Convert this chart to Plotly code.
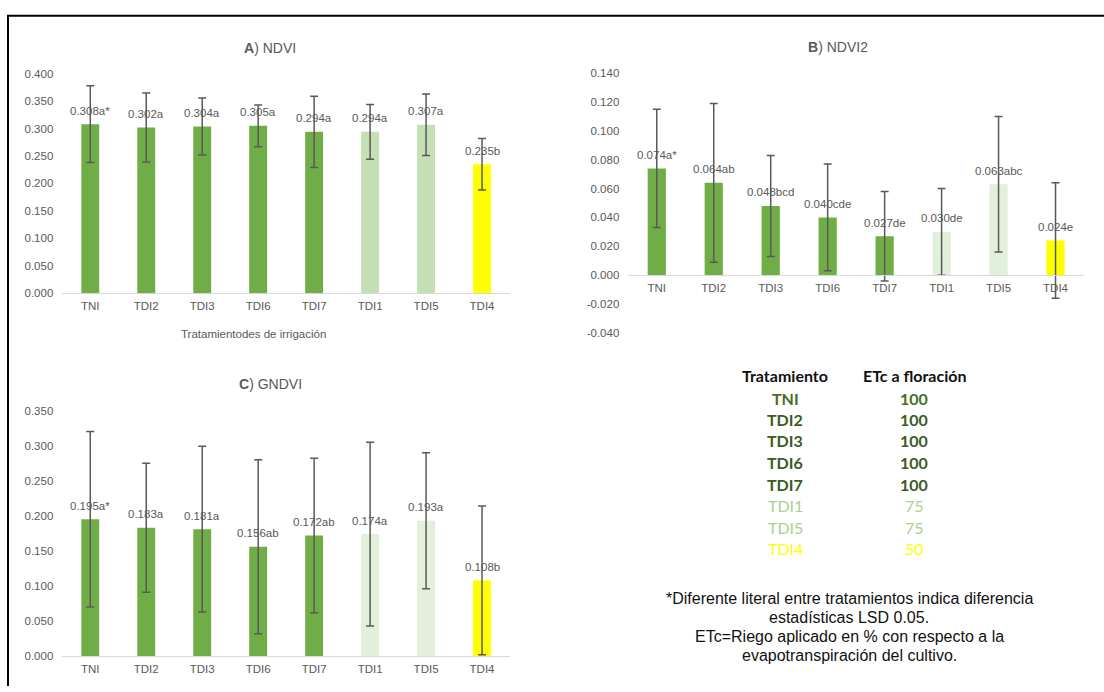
import plotly.graph_objects as go

# Treatments, in plotting order
treatments = ["TNI", "TDI2", "TDI3", "TDI6", "TDI7", "TDI1", "TDI5", "TDI4"]

# A) NDVI
ndvi = [0.308, 0.302, 0.304, 0.305, 0.294, 0.294, 0.307, 0.235]
ndvi_letters = ["a*", "a", "a", "a", "a", "a", "a", "b"]
ndvi_err = [0.070, 0.063, 0.052, 0.038, 0.065, 0.050, 0.056, 0.047]

# B) NDVI2
ndvi2 = [0.074, 0.064, 0.048, 0.040, 0.027, 0.030, 0.063, 0.024]
ndvi2_letters = ["a*", "ab", "bcd", "cde", "de", "de", "abc", "e"]
ndvi2_err = [0.041, 0.055, 0.035, 0.037, 0.031, 0.030, 0.047, 0.040]

# C) GNDVI
gndvi = [0.195, 0.183, 0.181, 0.156, 0.172, 0.174, 0.193, 0.108]
gndvi_letters = ["a*", "a", "a", "ab", "ab", "a", "a", "b"]
gndvi_err = [0.125, 0.092, 0.118, 0.124, 0.110, 0.131, 0.097, 0.106]

# Irrigation table
table_treatments = ["TNI", "TDI2", "TDI3", "TDI6", "TDI7", "TDI1", "TDI5", "TDI4"]
table_etc = ["100", "100", "100", "100", "100", "75", "75", "50"]

footnote_lines = [
    "*Diferente literal entre tratamientos indica diferencia",
    "estadísticas LSD 0.05.",
    "ETc=Riego aplicado en % con respecto a la",
    "evapotranspiración del cultivo.",
]

# Styling
W, H = 1104, 692
DARK = "#70AD47"
LIGHT_A = "#C5E0B4"
LIGHT_BC = "#E2EFDA"
YELLOW = "#FFFF00"
GREY = "#595959"
AXIS_LINE = "#D9D9D9"
FONT = "Liberation Sans, Arial, sans-serif"

colors_a = [DARK] * 5 + [LIGHT_A] * 2 + [YELLOW]
colors_bc = [DARK] * 5 + [LIGHT_BC] * 2 + [YELLOW]

table_colors = ["#466D27"] + ["#3B5B24"] * 4 + ["#A9D08E"] * 2 + ["#FFFF00"]
table_bold = [True] * 5 + [False] * 3


def px_x(p):
    return p / W


def px_y(p):
    return 1 - p / H


def paper_text(x, y, text, size, color, family=FONT):
    return dict(x=px_x(x), y=px_y(y), xref="paper", yref="paper", text=text,
                showarrow=False, xanchor="center", yanchor="middle",
                font=dict(family=family, size=size, color=color))


panels = [
    dict(vals=ndvi, letters=ndvi_letters, err=ndvi_err, colors=colors_a,
         yrange=(0.0, 0.4), dtick=0.05, xdom=(62.3, 510), ydom=(292, 69),
         title="<b>A</b>) NDVI", tpos=(270, 42.3)),
    dict(vals=ndvi2, letters=ndvi2_letters, err=ndvi2_err, colors=colors_bc,
         yrange=(-0.04, 0.14), dtick=0.02, xdom=(628.3, 1084), ydom=(332.7, 68.3),
         title="<b>B</b>) NDVI2", tpos=(838.3, 41.7)),
    dict(vals=gndvi, letters=gndvi_letters, err=gndvi_err, colors=colors_bc,
         yrange=(0.0, 0.35), dtick=0.05, xdom=(62.3, 510), ydom=(661.7, 411.7),
         title="<b>C</b>) GNDVI", tpos=(270, 385)),
]

fig = go.Figure()
annotations = []
layout_axes = {}

for i, p in enumerate(panels, start=1):
    xname = "x" if i == 1 else f"x{i}"
    yname = "y" if i == 1 else f"y{i}"
    fig.add_trace(go.Bar(
        x=treatments, y=p["vals"],
        marker=dict(color=p["colors"], line=dict(width=0)),
        width=0.32,
        error_y=dict(type="data", array=p["err"], visible=True,
                     color=GREY, thickness=1.5, width=4),
        xaxis=xname, yaxis=yname, showlegend=False, hoverinfo="skip",
    ))

    # value + significance letter above each bar
    for t, v, letter in zip(treatments, p["vals"], p["letters"]):
        annotations.append(dict(
            x=t, y=v, xref=xname, yref=yname, text=f"{v:.3f}{letter}",
            showarrow=False, xanchor="center", yanchor="middle", yshift=13.5,
            font=dict(family=FONT, size=11.5, color=GREY),
        ))

    annotations.append(paper_text(p["tpos"][0], p["tpos"][1], p["title"], 14, GREY))

    y0, y1 = p["yrange"]
    ydom = [px_y(p["ydom"][0]), px_y(p["ydom"][1])]
    n_ticks = int(round((y1 - y0) / p["dtick"])) + 1
    tickvals = [round(y0 + k * p["dtick"], 3) for k in range(n_ticks)]
    ticktext = [f"{v:.3f}" for v in tickvals]

    # category axis sits on the zero value
    zero_pos = ydom[0] + (0 - y0) / (y1 - y0) * (ydom[1] - ydom[0])

    layout_axes["xaxis" if i == 1 else f"xaxis{i}"] = dict(
        domain=[px_x(p["xdom"][0]), px_x(p["xdom"][1])],
        anchor="free", position=zero_pos,
        showline=True, linecolor=AXIS_LINE, linewidth=1.3,
        showgrid=False, zeroline=False, ticks="",
        ticklabelstandoff=2,
        tickfont=dict(family=FONT, size=11.5, color=GREY),
        categoryorder="array", categoryarray=treatments, fixedrange=True,
    )
    layout_axes["yaxis" if i == 1 else f"yaxis{i}"] = dict(
        domain=ydom, anchor=xname, range=[y0, y1],
        tickvals=tickvals, ticktext=ticktext,
        showgrid=False, zeroline=False, showline=False, ticks="",
        ticklabelstandoff=8,
        tickfont=dict(family=FONT, size=11.5, color=GREY), fixedrange=True,
    )

# x-axis title of panel A
annotations.append(paper_text(253.3, 333.3, "Tratamientodes de irrigación", 11.5, GREY))

# Irrigation table
TABLE_FONT = "Lato, Calibri, sans-serif"
col1_x, col2_x = 785, 914
annotations.append(paper_text(col1_x, 376, "<b>Tratamiento</b>", 16, "#111111", TABLE_FONT))
annotations.append(paper_text(col2_x, 376, "<b>ETc a floración</b>", 16, "#111111", TABLE_FONT))
row_y = [399, 420.5, 442.3, 465, 486.7, 508.7, 530.3, 552]
for t, e, c, b, ry in zip(table_treatments, table_etc, table_colors, table_bold, row_y):
    t_txt = f"<b>{t}</b>" if b else t
    e_txt = f"<b>{e}</b>" if b else e
    annotations.append(paper_text(col1_x, ry, t_txt, 16, c, TABLE_FONT))
    annotations.append(paper_text(col2_x, ry, e_txt, 16, c, TABLE_FONT))

# Footnote
foot_y = [602.7, 622.7, 642, 661]
for line, fy in zip(footnote_lines, foot_y):
    annotations.append(paper_text(849.3, fy, line, 16, "#111111"))

# Frame lines (top and left)
shapes = [
    dict(type="line", xref="paper", yref="paper", x0=px_x(7), x1=1, y0=px_y(10), y1=px_y(10),
         line=dict(color="black", width=2)),
    dict(type="line", xref="paper", yref="paper", x0=px_x(8), x1=px_x(8), y0=px_y(10), y1=0,
         line=dict(color="black", width=2)),
]

fig.update_layout(
    width=W, height=H, margin=dict(l=0, r=0, t=0, b=0),
    paper_bgcolor="white", plot_bgcolor="white",
    annotations=annotations, shapes=shapes, showlegend=False,
    **layout_axes,
)

fig.write_html("out.html", config={"displayModeBar": False})
